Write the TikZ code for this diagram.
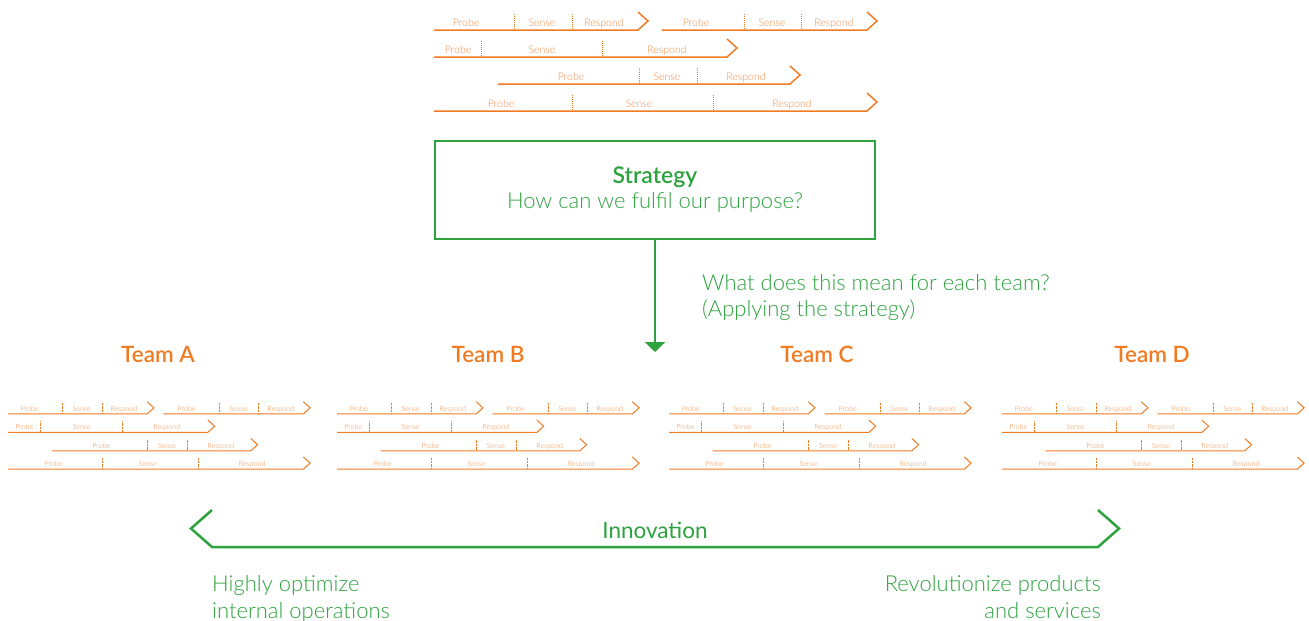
\documentclass[tikz,border=0pt]{standalone}
\usepackage{fontspec}
\setmainfont{Lato Light}[BoldFont={Lato Semibold}]
\newfontfamily\regfont{Lato}
\usetikzlibrary{arrows.meta}
\definecolor{kgreen}{HTML}{2DA23E}
\definecolor{korange}{HTML}{EF7B23}
\definecolor{korangetxt}{HTML}{F08C45}
\tikzset{
  psrline/.style={draw=korange, line width=1.5pt, line join=miter},
  psrsep/.style={draw=korange, line width=1pt, dash pattern=on 1pt off 1pt},
  psrtext/.style={text=korangetxt, font=\fontsize{10.5}{12}\selectfont, anchor=base, inner sep=0pt},
  greentext/.style={text=kgreen, font=\fontsize{22}{26}\selectfont, inner sep=0pt},
  greenbold/.style={text=kgreen, font=\fontsize{23}{27}\selectfont\bfseries, inner sep=0pt, anchor=base},
  teamlabel/.style={text=korange, font=\fontsize{22.5}{26}\selectfont\bfseries, inner sep=0pt, anchor=base},
  greenline/.style={draw=kgreen, line width=2.5pt},
}
\newcommand\psrseg[8]{%
  \draw[psrline] (#1,#3) -- (#2,#3) -- ++(10,-9) -- ++(-10,-9);
  \draw[psrsep] (#4,#3-1) -- (#4,#3-17);
  \draw[psrsep] (#5,#3-1) -- (#5,#3-17);
  \node[psrtext] at (#6,#3-4) {Probe};
  \node[psrtext] at (#7,#3-4) {Sense};
  \node[psrtext] at (#8,#3-4) {Respond};
}
\newcommand\psrblock{%
  \psrseg{0}{204}{18}{80}{138}{32}{108}{170}
  \psrseg{228}{433}{18}{310}{367}{262}{338}{400}
  \psrseg{0}{293}{45}{47}{168}{24}{108}{233}
  \psrseg{64}{356}{72}{205}{263}{137}{233}{312}
  \psrseg{0}{433}{99}{138}{279}{67}{205}{358}
}
\tikzset{teamscope/.style={scale=0.682, every node/.append style={transform shape},
  psrline/.append style={line width=1pt},
  psrsep/.append style={line width=0.7pt, dash pattern=on 0.7pt off 0.7pt}}}
\begin{document}
\begin{tikzpicture}[x=1pt, y=-1pt]
\useasboundingbox (0,0) rectangle (1309,621);
% top probe/sense/respond block
\begin{scope}[shift={(434,12)}]
  \psrblock
\end{scope}
% strategy box
\node[draw=kgreen, line width=2.5pt, minimum width=440pt, minimum height=98pt, inner sep=0pt] (strat) at (655,190) {};
\node[greenbold] (stratT) at (655,183) {Strategy};
\node[greentext, anchor=base] (stratQ) at (655,208) {How can we fulfil our purpose?};
\coordinate (arrtip) at (655,352);
\draw[greenline, -{Triangle[width=20pt,length=10pt]}] (strat.south) -- (arrtip);
\node[greentext, anchor=base west] (mean1) at (702,290) {What does this mean for each team?};
\node[greentext, anchor=base west] (mean2) at (702,316) {(Applying the strategy)};
% teams
\node[teamlabel] (teamA) at (158,362) {Team A};
\node[teamlabel] (teamB) at (488,362) {Team B};
\node[teamlabel] (teamC) at (817,362) {Team C};
\node[teamlabel] (teamD) at (1152,362) {Team D};
\begin{scope}[shift={(8,401.7)}, teamscope] \psrblock \end{scope}
\begin{scope}[shift={(337,401.7)}, teamscope] \psrblock \end{scope}
\begin{scope}[shift={(669,401.7)}, teamscope] \psrblock \end{scope}
\begin{scope}[shift={(1002,401.7)}, teamscope] \psrblock \end{scope}
% innovation bracket
\draw[greenline, line join=miter] (212,510) -- (191,528.5) -- (212,547) -- (1098,547) -- (1119,528.5) -- (1098,510);
\node[text=kgreen, font=\fontsize{22.5}{26}\selectfont\regfont, inner sep=0pt, anchor=base] (innov) at (655,538) {Innovation};
\node[greentext, anchor=base west] (left1) at (212,591) {Highly optimize};
\node[greentext, anchor=base west] (left2) at (212,618) {internal operations};
\node[greentext, anchor=base east] (right1) at (1101,591) {Revolutionize products};
\node[greentext, anchor=base east] (right2) at (1101,618) {and services};
\end{tikzpicture}
\end{document}
